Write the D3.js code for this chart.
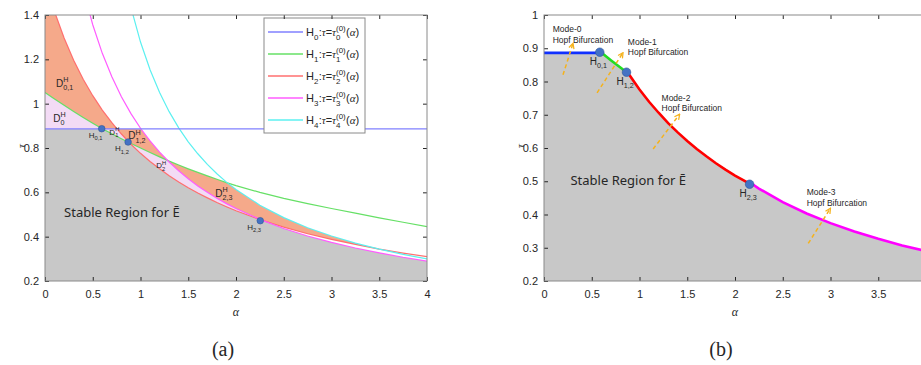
<!DOCTYPE html>
<html>
<head>
<meta charset="utf-8">
<script src="https://cdn.jsdelivr.net/npm/d3@7"></script>
<style>
  body { margin: 0; background: #fff; }
  svg { display: block; }
  text { font-family: "Liberation Sans", Arial, sans-serif; fill: #262626; }
</style>
</head>
<body>
<div id="chart"></div>
<script>
// alpha grid shared by every curve
var alphaGrid = [0, 0.1, 0.2, 0.3, 0.4, 0.5, 0.6, 0.7, 0.8, 0.9, 1.0,
  1.1, 1.2, 1.3, 1.4, 1.5, 1.6, 1.7, 1.8, 1.9, 2.0,
  2.25, 2.5, 2.75, 3.0, 3.25, 3.5, 3.75, 4.0];

// H0 : tau_0^(0) is flat
var h0Level = 0.886;
var tau0 = alphaGrid.map(function () { return h0Level; });
// H1 (green)
var tau1 = [1.050, 1.021, 0.993, 0.965, 0.938, 0.912, 0.887, 0.864, 0.842, 0.820, 0.800,
  0.780, 0.760, 0.741, 0.723, 0.706, 0.690, 0.674, 0.659, 0.644, 0.630,
  0.600, 0.573, 0.549, 0.527, 0.506, 0.485, 0.465, 0.445];
// H2 (red)
var tau2 = [1.557, 1.415, 1.296, 1.196, 1.110, 1.036, 0.971, 0.914, 0.863, 0.817, 0.776,
  0.739, 0.706, 0.675, 0.647, 0.621, 0.597, 0.575, 0.554, 0.535, 0.517,
  0.477, 0.443, 0.413, 0.388, 0.365, 0.344, 0.326, 0.310];
// H3 (magenta)
var tau3 = [null, null, null, null, 1.515, 1.356, 1.227, 1.121, 1.031, 0.955, 0.889,
  0.832, 0.781, 0.737, 0.697, 0.661, 0.629, 0.600, 0.573, 0.549, 0.527,
  0.478, 0.437, 0.403, 0.374, 0.349, 0.327, 0.307, 0.290];
// H4 (cyan)
var tau4 = [null, null, null, null, null, null, null, null, null, 1.434, 1.278,
  1.153, 1.050, 0.964, 0.891, 0.828, 0.774, 0.726, 0.684, 0.646, 0.613,
  0.542, 0.486, 0.440, 0.403, 0.371, 0.344, 0.320, 0.300];

// double Hopf points
var hopfA = [{ name: "0,1", a: 0.594, t: 0.887 }, { name: "1,2", a: 0.870, t: 0.827 }, { name: "2,3", a: 2.254, t: 0.472 }];
var hopfB = [{ name: "0,1", a: 0.584, t: 0.888 }, { name: "1,2", a: 0.864, t: 0.828 }, { name: "2,3", a: 2.153, t: 0.491 }];

// region labels in panel (a)
var regionLabels = [
  { sub: "0,1", a: 0.115, t: 1.075, fs: 10 },
  { sub: "0", a: 0.087, t: 0.917, fs: 10 },
  { sub: "1", a: 0.674, t: 0.859, fs: 8 },
  { sub: "1,2", a: 0.873, t: 0.839, fs: 10 },
  { sub: "2", a: 1.164, t: 0.708, fs: 8 },
  { sub: "2,3", a: 1.782, t: 0.580, fs: 10 }
];

// mode annotations in panel (b)
var modeNotes = [
  { label: "Mode-0", a: 0.091, t: 0.949, from: [0.199, 0.820], to: [0.304, 0.915] },
  { label: "Mode-1", a: 0.878, t: 0.911, from: [0.556, 0.766], to: [0.828, 0.887] },
  { label: "Mode-2", a: 1.231, t: 0.742, from: [1.143, 0.597], to: [1.421, 0.702] },
  { label: "Mode-3", a: 2.750, t: 0.458, from: [2.767, 0.313], to: [3.000, 0.419] }
];

var xTicks = [0, 0.5, 1, 1.5, 2, 2.5, 3, 3.5, 4];
var yTicksA = [0.2, 0.4, 0.6, 0.8, 1, 1.2, 1.4];
var yTicksB = [0.2, 0.3, 0.4, 0.5, 0.6, 0.7, 0.8, 0.9, 1];

var curves = [tau0, tau1, tau2, tau3, tau4];
var thinColors = ["#8080ff", "#66e066", "#ff6f6f", "#ff5cff", "#5cf0f0"];
var boldColors = ["#1030ff", "#22dd22", "#ff0000", "#ff00ff"];
var grey = "#c8c8c8", pink = "#f3dbf5", orange = "#f5a98a";
var fillColor = { "": grey, "0": pink, "1": pink, "2": pink, "0,1": orange, "1,2": orange, "2,3": orange };

var width = 382, height = 266;

var svg = d3.select("#chart").append("svg")
  .attr("width", 921).attr("height", 365);

var x = d3.scaleLinear().domain([0, 4]).range([0, width]);
var yA = d3.scaleLinear().domain([0.2, 1.4]).range([height, 0]);
var yB = d3.scaleLinear().domain([0.2, 1.0]).range([height, 0]);

function valueAt(series, a) {
  var i = d3.bisectRight(alphaGrid, a) - 1;
  i = Math.max(0, Math.min(alphaGrid.length - 2, i));
  var v0 = series[i], v1 = series[i + 1];
  if (v0 == null || v1 == null) return Infinity;
  var f = (a - alphaGrid[i]) / (alphaGrid[i + 1] - alphaGrid[i]);
  return v0 + f * (v1 - v0);
}

// writes H_{sub}, D^{sup}_{sub}, tau^{(0)}_k ... piece by piece
function richText(g, px, py, parts, fs) {
  var cx = px;
  parts.forEach(function (p) {
    if (p.sub !== undefined || p.sup !== undefined) {
      var w = 0, small = fs * 0.72;
      if (p.sup !== undefined) {
        var s = g.append("text").attr("x", cx).attr("y", py - fs * 0.48)
          .style("font-size", small + "px").text(p.sup);
        w = Math.max(w, s.node().getComputedTextLength());
      }
      if (p.sub !== undefined) {
        var b = g.append("text").attr("x", cx).attr("y", py + fs * 0.32)
          .style("font-size", small + "px").text(p.sub);
        w = Math.max(w, b.node().getComputedTextLength());
      }
      cx += w + 0.3;
    } else {
      var t = g.append("text").attr("x", cx).attr("y", py)
        .style("font-size", fs + "px").text(p.t);
      if (p.it) t.style("font-family", "'Liberation Serif', serif").style("font-style", "italic");
      cx += t.node().getComputedTextLength();
    }
  });
}

function drawAxes(g, y, yTicks, xFormat) {
  var ax = function (sel) {
    sel.selectAll(".domain").remove();
    sel.selectAll(".tick line").attr("stroke", "#262626");
    sel.selectAll(".tick text").style("font-size", "11px").attr("fill", "#333");
  };
  g.append("g").attr("transform", "translate(0," + height + ")")
    .call(d3.axisBottom(x).tickValues(xTicks).tickFormat(xFormat).tickSize(-4).tickPadding(9)).call(ax);
  g.append("g").call(d3.axisTop(x).tickValues(xTicks).tickFormat("").tickSize(-4)).call(ax);
  g.append("g")
    .call(d3.axisLeft(y).tickValues(yTicks).tickFormat(String).tickSize(-4).tickPadding(6)).call(ax);
  g.append("g").attr("transform", "translate(" + width + ",0)")
    .call(d3.axisRight(y).tickValues(yTicks).tickFormat("").tickSize(-4)).call(ax);
  g.append("rect").attr("width", width).attr("height", height)
    .attr("fill", "none").attr("stroke", "#8a8a8a").attr("stroke-width", 1);

  g.append("text").attr("x", width / 2).attr("y", height + 35)
    .attr("text-anchor", "middle")
    .style("font-family", "'Liberation Serif', serif").style("font-style", "italic")
    .style("font-size", "12px").attr("fill", "#444").text("α");
  g.append("text").attr("transform", "translate(-20," + (height / 2 - 2) + ") rotate(-90)")
    .attr("text-anchor", "middle")
    .style("font-family", "'Liberation Serif', serif").style("font-style", "italic")
    .style("font-size", "11px").attr("fill", "#444").text("τ");
}

function curveLine(y) {
  return d3.line()
    .defined(function (d) { return d[1] != null; })
    .x(function (d) { return x(d[0]); })
    .y(function (d) { return y(d[1]); });
}

svg.append("defs").append("clipPath").attr("id", "plotclip")
  .append("rect").attr("width", width).attr("height", height);
svg.select("defs").append("marker")
  .attr("id", "arrowhead").attr("viewBox", "0 0 8 8").attr("refX", 7).attr("refY", 4)
  .attr("markerWidth", 7).attr("markerHeight", 7).attr("markerUnits", "userSpaceOnUse")
  .attr("orient", "auto")
  .append("path").attr("d", "M1,1 L7,4 L1,7").attr("fill", "none")
  .attr("stroke", "#f5b21b").attr("stroke-width", 1.4);

// ---------- panel (a) ----------
var ga = svg.append("g").attr("transform", "translate(45,15)");
var fillsA = ga.append("g").attr("shape-rendering", "crispEdges");
for (var px = 0; px < width; px++) {
  var a = x.invert(px + 0.5);
  var vals = curves.map(function (c) { return valueAt(c, a); });
  var cuts = [0.2, 1.4].concat(vals.filter(function (v) { return v > 0.2 && v < 1.4; }))
    .sort(d3.ascending);
  var runs = [];
  for (var j = 0; j < cuts.length - 1; j++) {
    var lo = cuts[j], hi = cuts[j + 1];
    if (hi - lo < 1e-9) continue;
    var mid = (lo + hi) / 2;
    var key = vals.map(function (v, k) { return v < mid ? k : -1; })
      .filter(function (k) { return k >= 0; }).join(",");
    var col = fillColor[key] || null;
    var last = runs[runs.length - 1];
    if (last && last.col === col) last.hi = hi;
    else runs.push({ lo: lo, hi: hi, col: col });
  }
  runs.forEach(function (r) {
    if (!r.col) return;
    fillsA.append("rect").attr("x", px).attr("width", 1)
      .attr("y", yA(r.hi)).attr("height", yA(r.lo) - yA(r.hi))
      .attr("fill", r.col);
  });
}

var linesA = ga.append("g").attr("clip-path", "url(#plotclip)");
[1, 2, 3, 4, 0].forEach(function (k) {
  linesA.append("path")
    .datum(alphaGrid.map(function (a, i) { return [a, curves[k][i]]; }))
    .attr("d", curveLine(yA))
    .attr("fill", "none").attr("stroke", thinColors[k]).attr("stroke-width", 1.2);
});

regionLabels.forEach(function (r) {
  richText(ga, x(r.a), yA(r.t), [{ t: "D" }, { sub: r.sub, sup: "H" }], r.fs);
});

ga.selectAll(".hopf").data(hopfA).enter().append("circle")
  .attr("cx", function (d) { return x(d.a); })
  .attr("cy", function (d) { return yA(d.t); })
  .attr("r", 3.3).attr("fill", "#4472c4").attr("stroke", "#2f5597").attr("stroke-width", 0.6);
hopfA.forEach(function (d) {
  richText(ga, x(d.a) - 13, yA(d.t) + 9, [{ t: "H" }, { sub: d.name }], 8);
});

ga.append("text").attr("x", x(0.2)).attr("y", yA(0.489))
  .style("font-family", "'Noto Sans', 'Open Sans', sans-serif").style("font-size", "13px")
  .attr("fill", "#222").text("Stable Region for Ē");

// legend
var leg = ga.append("g").attr("transform", "translate(219,3)");
leg.append("rect").attr("width", 101).attr("height", 115)
  .attr("fill", "#fff").attr("stroke", "#8a8a8a");
curves.forEach(function (c, k) {
  var ly = 14 + k * 22;
  leg.append("line").attr("x1", 4).attr("x2", 39).attr("y1", ly).attr("y2", ly)
    .attr("stroke", thinColors[k]).attr("stroke-width", 1.3);
  richText(leg, 42, ly + 4, [
    { t: "H" }, { sub: String(k) }, { t: ":" }, { t: "τ", it: 1 }, { t: "=" }, { t: "τ", it: 1 },
    { sub: String(k), sup: "(0)" }, { t: "(" }, { t: "α", it: 1 }, { t: ")" }
  ], 11);
});

drawAxes(ga, yA, yTicksA, String);

// ---------- panel (b) ----------
var gb = svg.append("g").attr("transform", "translate(544,15)");
var samples = d3.range(0, width + 1).map(function (p) { return x.invert(p); });
gb.append("path").datum(samples)
  .attr("d", d3.area()
    .x(function (a) { return x(a); })
    .y0(height)
    .y1(function (a) {
      return yB(d3.min(curves, function (c) { return valueAt(c, a); }));
    }))
  .attr("fill", grey);

var bounds = [0].concat(hopfB.map(function (d) { return d.a; })).concat([4]);
var linesB = gb.append("g").attr("clip-path", "url(#plotclip)");
[0, 1, 2, 3].forEach(function (k) {
  var a0 = bounds[k], a1 = bounds[k + 1];
  var pts = [[a0, valueAt(curves[k], a0)]];
  alphaGrid.forEach(function (a, i) {
    if (a > a0 && a < a1) pts.push([a, curves[k][i]]);
  });
  pts.push([a1, valueAt(curves[k], a1)]);
  linesB.append("path").datum(pts)
    .attr("d", curveLine(yB))
    .attr("fill", "none").attr("stroke", boldColors[k]).attr("stroke-width", 2.6);
});

modeNotes.forEach(function (m) {
  gb.append("line")
    .attr("x1", x(m.from[0])).attr("y1", yB(m.from[1]))
    .attr("x2", x(m.to[0])).attr("y2", yB(m.to[1]))
    .attr("stroke", "#f5b21b").attr("stroke-width", 1.5)
    .attr("stroke-dasharray", "4,3").attr("marker-end", "url(#arrowhead)");
  var t = gb.append("text").attr("x", x(m.a)).attr("y", yB(m.t))
    .style("font-size", "8.5px").attr("fill", "#111");
  t.append("tspan").attr("x", x(m.a)).text(m.label);
  t.append("tspan").attr("x", x(m.a)).attr("dy", 10.7).text("Hopf Bifurcation");
});

gb.selectAll(".hopf").data(hopfB).enter().append("circle")
  .attr("cx", function (d) { return x(d.a); })
  .attr("cy", function (d) { return yB(d.t); })
  .attr("r", 4.3).attr("fill", "#4472c4").attr("stroke", "#2f5597").attr("stroke-width", 0.6);
hopfB.forEach(function (d) {
  richText(gb, x(d.a) - 10, yB(d.t) + 13, [{ t: "H" }, { sub: d.name }], 10);
});

gb.append("text").attr("x", x(0.277)).attr("y", yB(0.489))
  .style("font-family", "'Noto Sans', 'Open Sans', sans-serif").style("font-size", "13px")
  .attr("fill", "#222").text("Stable Region for Ē");

// the "4" label falls outside the window in the original, so it is left blank
drawAxes(gb, yB, yTicksB, function (d) { return d === 4 ? "" : String(d); });

// captions
svg.append("text").attr("x", 223).attr("y", 356).attr("text-anchor", "middle")
  .style("font-family", "'Liberation Serif', serif").style("font-size", "20px")
  .attr("fill", "#000").text("(a)");
svg.append("text").attr("x", 721).attr("y", 356).attr("text-anchor", "middle")
  .style("font-family", "'Liberation Serif', serif").style("font-size", "20px")
  .attr("fill", "#000").text("(b)");
</script>
</body>
</html>
